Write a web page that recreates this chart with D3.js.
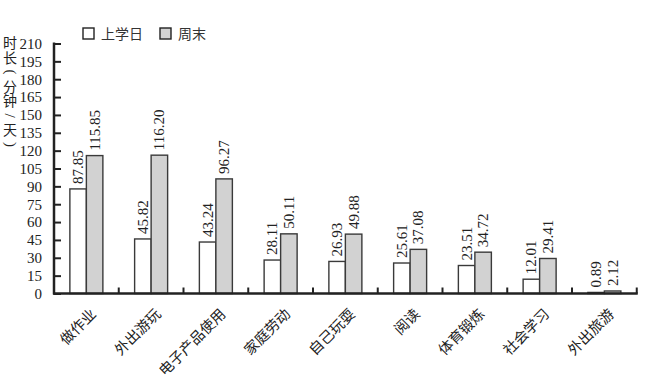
<!DOCTYPE html>
<html><head><meta charset="utf-8">
<script src="https://cdn.jsdelivr.net/npm/d3@7"></script>
<style>
body{margin:0;background:#fff;}
svg{display:block;}
</style></head>
<body>
<svg id="c" width="650" height="385"></svg>
<script>
const categories = ["做作业","外出游玩","电子产品使用","家庭劳动","自己玩耍","阅读","体育锻炼","社会学习","外出旅游"];
const schoolDay = [87.85,45.82,43.24,28.11,26.93,25.61,23.51,12.01,0.89];
const weekend = [115.85,116.20,96.27,50.11,49.88,37.08,34.72,29.41,2.12];
const seriesNames = ["上学日","周末"];
const yTicks = d3.range(0,211,15);
const yTitle = ["时","长","(","分","钟","/","天",")"];

const svg = d3.select("#c");
const serif = "'Liberation Serif','Times New Roman',serif";
const cjk = "'Noto Sans CJK SC','Noto Sans',sans-serif";
const x0 = 54, x1 = 636.75, yb = 293.5, yt = 43.5;
const x = d3.scaleBand().domain(categories).range([x0,x1]);
const y = d3.scaleLinear().domain([0,210]).range([yb,yt]);
const bw = 16.5;
const fills = ["#ffffff","#d2d2d2"];
const stroke = "#3a3a3a";

// bars
const data = categories.map((c,i)=>({c, v:[schoolDay[i],weekend[i]]}));
const g = svg.append("g");
data.forEach(d=>{
  const cx = x(d.c) + x.bandwidth()/2;
  d.v.forEach((v,j)=>{
    const bx = cx - bw + j*bw;
    g.append("rect").attr("x",bx).attr("y",y(v)).attr("width",bw).attr("height",yb-y(v))
      .attr("fill",fills[j]).attr("stroke",stroke).attr("stroke-width",1.4);
    g.append("text")
      .attr("transform",`translate(${bx+bw/2},${y(v)-5}) rotate(-90)`)
      .attr("dominant-baseline","central")
      .attr("font-family",serif).attr("font-size",15).attr("fill","#222")
      .text(v.toFixed(2));
  });
});

// y axis
const yAxis = d3.axisLeft(y).tickValues(yTicks).tickSize(-7).tickPadding(12).tickSizeOuter(0);
const ya = svg.append("g").attr("transform",`translate(${x0},0)`).call(yAxis);
ya.select(".domain").attr("stroke","#222").attr("stroke-width",2.5);
ya.selectAll(".tick line").attr("stroke","#222").attr("stroke-width",2);
ya.selectAll(".tick text").attr("font-family",serif).attr("font-size",15).attr("fill","#222");
ya.select(".domain").attr("d",`M0,${yb+1}V${yt-1}`);

// x axis
const xa = svg.append("g").attr("transform",`translate(0,${yb})`);
xa.append("line").attr("x1",x0-1).attr("x2",x1+1).attr("stroke","#222").attr("stroke-width",2.5);
const bounds = categories.map((c)=>x(c)+x.bandwidth());
xa.selectAll("line.t").data(bounds).join("line").attr("class","t")
  .attr("x1",d=>d).attr("x2",d=>d).attr("y1",0).attr("y2",-6).attr("stroke","#222").attr("stroke-width",2);
xa.selectAll("text.cat").data(categories).join("text").attr("class","cat")
  .attr("transform",d=>`translate(${x(d)+x.bandwidth()/2+1},${12}) rotate(-45)`)
  .attr("text-anchor","end").attr("dominant-baseline","hanging")
  .attr("font-family",cjk).attr("font-size",14.5).attr("fill","#222")
  .text(d=>d);

// y title: one text element, one glyph per line; brackets and slash turned 90° per glyph
const tt = svg.append("text").attr("fill","#222").attr("text-anchor","middle");
yTitle.forEach((ch,i)=>{
  const cy = 43 + i*14.5;
  const ts = tt.append("tspan").text(ch);
  if (ch === "(" || ch === ")") {
    ts.attr("x",8.95).attr("y",cy-2.6).attr("rotate",90)
      .attr("font-family",serif).attr("font-size",15);
  } else if (ch === "/") {
    ts.attr("x",7.1).attr("y",cy-2.1).attr("rotate",90)
      .attr("font-family",serif).attr("font-size",15);
  } else {
    ts.attr("x",10).attr("y",cy+5).attr("font-family",cjk).attr("font-size",14);
  }
});

// legend
const lg = svg.append("g");
const lx = [83,160];
seriesNames.forEach((n,i)=>{
  lg.append("rect").attr("x",lx[i]).attr("y",28).attr("width",11).attr("height",11)
    .attr("fill",fills[i]).attr("stroke","#222").attr("stroke-width",1.4);
  lg.append("text").attr("x",lx[i]+18).attr("y",39).attr("font-family",cjk).attr("font-size",14)
    .attr("fill","#333").text(n);
});
</script>
</body></html>
